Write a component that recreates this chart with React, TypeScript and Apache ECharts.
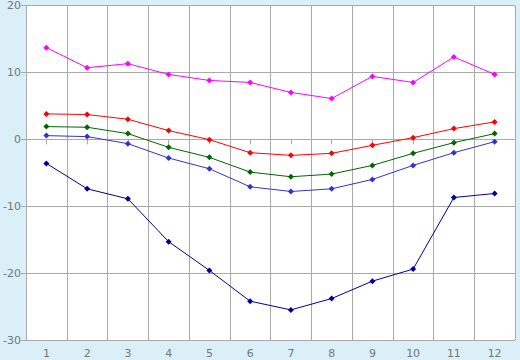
import React, { useEffect, useRef } from "react";
import * as echarts from "echarts";

const categories = ["1", "2", "3", "4", "5", "6", "7", "8", "9", "10", "11", "12"];
const magenta = [13.7, 10.7, 11.3, 9.7, 8.8, 8.5, 7.0, 6.1, 9.4, 8.5, 12.3, 9.7];
const red = [3.8, 3.7, 3.0, 1.3, -0.05, -2.0, -2.4, -2.1, -0.9, 0.25, 1.6, 2.6];
const green = [1.9, 1.8, 0.85, -1.2, -2.7, -4.9, -5.6, -5.2, -3.9, -2.1, -0.5, 0.85];
const blue = [0.55, 0.4, -0.65, -2.8, -4.4, -7.1, -7.8, -7.4, -6.0, -3.9, -2.0, -0.35];
const navy = [-3.6, -7.4, -8.9, -15.3, -19.6, -24.2, -25.5, -23.8, -21.2, -19.4, -8.7, -8.1];

const seriesDefs = [
  { name: "s1", data: magenta, color: "#ff00ff" },
  { name: "s2", data: red, color: "#ff0000" },
  { name: "s3", data: green, color: "#006600" },
  { name: "s4", data: blue, color: "#3333cc" },
  { name: "s5", data: navy, color: "#000099" },
];

export default function App() {
  const ref = useRef<HTMLDivElement>(null);
  useEffect(() => {
    if (!ref.current) return;
    const chart = echarts.init(ref.current, null, { renderer: "svg" });
    chart.setOption({
      animation: false,
      backgroundColor: "#daeff7",
      grid: { left: 26, right: 5, top: 5, bottom: 20, show: true, backgroundColor: "#ffffff", borderWidth: 0 },
      xAxis: {
        type: "category",
        data: categories,
        boundaryGap: true,
        axisLine: { lineStyle: { color: "#aaaaaa", width: 1 } },
        axisTick: { show: true, alignWithLabel: true, length: 5, lineStyle: { color: "#aaaaaa" } },
        axisLabel: { color: "#777777", fontFamily: "DejaVu Sans", fontSize: 11, margin: 8 },
        splitLine: { show: true, interval: 0, lineStyle: { color: "#aaaaaa", width: 1 } },
      },
      yAxis: {
        type: "value",
        min: -30,
        max: 20,
        interval: 10,
        axisLine: { show: true, lineStyle: { color: "#aaaaaa", width: 1 } },
        axisTick: { show: true, length: 5, lineStyle: { color: "#aaaaaa" } },
        axisLabel: { color: "#777777", fontFamily: "DejaVu Sans", fontSize: 11, margin: 5 },
        splitLine: { show: true, lineStyle: { color: "#aaaaaa", width: 1 } },
      },
      series: seriesDefs.map((s) => ({
        name: s.name,
        type: "line",
        data: s.data,
        symbol: "diamond",
        symbolSize: 6,
        showSymbol: true,
        lineStyle: { color: s.color, width: 1 },
        itemStyle: { color: s.color },
      })),
    });
    return () => chart.dispose();
  }, []);
  return <div ref={ref} style={{ width: 520, height: 360, position: "fixed", left: 0, top: 0 }} />;
}
